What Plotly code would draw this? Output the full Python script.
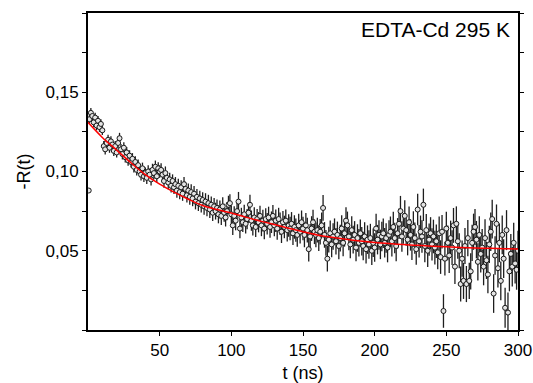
import plotly.graph_objects as go

# ---- data ----
t_first = [0.5]
r_first = [0.088]
t_main = list(range(1, 301))
r_main = [
    0.133, 0.137, 0.135, 0.131, 0.134, 0.129, 0.132, 0.128, 0.130, 0.126,
    0.116, 0.114, 0.118, 0.120, 0.115, 0.119, 0.117, 0.113, 0.116, 0.112,
    0.118, 0.121, 0.114, 0.111, 0.115, 0.109, 0.112, 0.107, 0.110, 0.106,
    0.108, 0.103, 0.106, 0.101, 0.104, 0.100, 0.098, 0.102, 0.097, 0.099,
    0.096, 0.100, 0.098, 0.095, 0.101, 0.099, 0.103, 0.097, 0.102, 0.100,
    0.101, 0.098, 0.094, 0.099, 0.096, 0.093, 0.095, 0.091, 0.094, 0.090,
    0.092, 0.088, 0.091, 0.087, 0.090, 0.086, 0.092, 0.089, 0.085, 0.088,
    0.084, 0.087, 0.083, 0.086, 0.081, 0.084, 0.080, 0.083, 0.079, 0.082,
    0.078, 0.081, 0.077, 0.080, 0.076, 0.079, 0.074, 0.078, 0.075, 0.077,
    0.073, 0.076, 0.072, 0.078, 0.074, 0.071, 0.075, 0.079, 0.080, 0.073,
    0.066, 0.072, 0.069, 0.075, 0.081, 0.064, 0.071, 0.068, 0.073, 0.067,
    0.070, 0.074, 0.079, 0.069, 0.066, 0.071, 0.065, 0.070, 0.068, 0.072,
    0.066, 0.069, 0.064, 0.070, 0.067, 0.071, 0.065, 0.068, 0.072, 0.066,
    0.069, 0.064, 0.070, 0.067, 0.062, 0.068, 0.065, 0.069, 0.063, 0.066,
    0.064, 0.067, 0.061, 0.065, 0.063, 0.060, 0.066, 0.062, 0.068, 0.064,
    0.060, 0.066, 0.063, 0.051, 0.059, 0.064, 0.068, 0.062, 0.060, 0.063,
    0.058, 0.062, 0.066, 0.077, 0.060, 0.055, 0.045, 0.057, 0.061, 0.054,
    0.059, 0.062, 0.056, 0.060, 0.053, 0.058, 0.064, 0.055, 0.061, 0.069,
    0.066, 0.059, 0.054, 0.063, 0.057, 0.060, 0.052, 0.058, 0.055, 0.061,
    0.056, 0.053, 0.059, 0.051, 0.057, 0.054, 0.058, 0.050, 0.055, 0.052,
    0.064, 0.057, 0.060, 0.054, 0.059, 0.061, 0.055, 0.058, 0.052, 0.060,
    0.062, 0.056, 0.065, 0.058, 0.053, 0.061, 0.067, 0.075, 0.059, 0.064,
    0.072, 0.063, 0.057, 0.068, 0.060, 0.054, 0.065, 0.058, 0.051, 0.076,
    0.056, 0.062, 0.059, 0.079, 0.053, 0.063, 0.050, 0.057, 0.061, 0.054,
    0.059, 0.052, 0.056, 0.049, 0.061, 0.046, 0.062, 0.012, 0.045, 0.064,
    0.055, 0.047, 0.058, 0.052, 0.066, 0.040, 0.067, 0.056, 0.050, 0.029,
    0.045, 0.031, 0.053, 0.029, 0.058, 0.031, 0.037, 0.055, 0.062, 0.065,
    0.057, 0.043, 0.060, 0.048, 0.052, 0.040, 0.058, 0.044, 0.035, 0.054,
    0.062, 0.070, 0.023, 0.047, 0.067, 0.039, 0.055, 0.031, 0.060, 0.045,
    0.014, 0.063, 0.011, 0.037, 0.048, 0.040, 0.055, 0.042, 0.038, 0.050,
]
# error half-width per 10 ns block
err_block = [
    0.0030, 0.0032, 0.0034, 0.0036, 0.0039, 0.0042, 0.0045, 0.0049, 0.0053, 0.0057,
    0.0061, 0.0064, 0.0068, 0.0071, 0.0074, 0.0078, 0.0081, 0.0084, 0.0087, 0.0090,
    0.0093, 0.0096, 0.0099, 0.0102, 0.0106, 0.0110, 0.0114, 0.0118, 0.0122, 0.0126,
]
# fitted curve
t_fit = [0, 10, 20, 30, 40, 50, 60, 70, 80, 90, 100, 110, 120, 130, 140, 150,
         160, 170, 180, 190, 200, 210, 220, 230, 240, 250, 260, 270, 280, 290, 300]
r_fit = [0.1310, 0.1215, 0.1135, 0.1055, 0.0980, 0.0920, 0.0870, 0.0825, 0.0785,
         0.0760, 0.0738, 0.0712, 0.0688, 0.0665, 0.0642, 0.0620, 0.0600, 0.0585,
         0.0572, 0.0561, 0.0552, 0.0545, 0.0539, 0.0534, 0.0529, 0.0525, 0.0521,
         0.0518, 0.0515, 0.0513, 0.0511]

err_main = [err_block[min((int(t) - 1) // 10, len(err_block) - 1)] for t in t_main]

fig = go.Figure()
fig.add_trace(go.Scatter(
    x=t_first + t_main, y=r_first + r_main, mode="markers",
    error_y=dict(type="data", array=[0.0] + err_main, color="#1e1e1e",
                 thickness=1.3, width=0),
    marker=dict(symbol="circle", size=5, color="#e4e4e4",
                line=dict(color="#1a1a1a", width=1)),
    showlegend=False,
))
fig.add_trace(go.Scatter(
    x=t_fit, y=r_fit, mode="lines", line=dict(color="red", width=1.5, shape="spline"),
    showlegend=False,
))

font_family = "Liberation Sans, Arial, sans-serif"
fig.update_layout(
    width=533, height=383,
    margin=dict(l=88, r=15, t=13, b=53),
    paper_bgcolor="white", plot_bgcolor="white",
    separators=",.",
    font=dict(family=font_family, size=17, color="black"),
    xaxis=dict(
        range=[0, 300], tickvals=[50, 100, 150, 200, 250, 300],
        showline=True, linecolor="black", linewidth=2, mirror=True,
        ticks="outside", ticklen=4, tickcolor="black", showgrid=False, zeroline=False,
        title=dict(text="t (ns)", font=dict(size=18), standoff=8),
        tickfont=dict(size=17), automargin=False,
    ),
    yaxis=dict(
        range=[0, 0.2], tickvals=[0.05, 0.10, 0.15], tickformat=".2f",
        showline=True, linecolor="black", linewidth=2, mirror="ticks",
        ticks="outside", ticklen=4, tickcolor="black", showgrid=False, zeroline=False,
        minor=dict(dtick=0.025, tick0=0, ticks="outside", ticklen=4, tickcolor="black"),
        title=dict(text="-R(t)", font=dict(size=18), standoff=10),
        tickfont=dict(size=17), automargin=False,
    ),
    annotations=[dict(
        text="EDTA-Cd 295 K", xref="paper", yref="paper", x=0.985, y=0.99,
        xanchor="right", yanchor="top", showarrow=False,
        font=dict(size=21, family=font_family, color="black"),
    )],
)

fig.write_html(
    "out.html",
    config={"displayModeBar": False},
    post_script="document.body.style.margin='0';document.body.style.overflow='hidden';",
)
